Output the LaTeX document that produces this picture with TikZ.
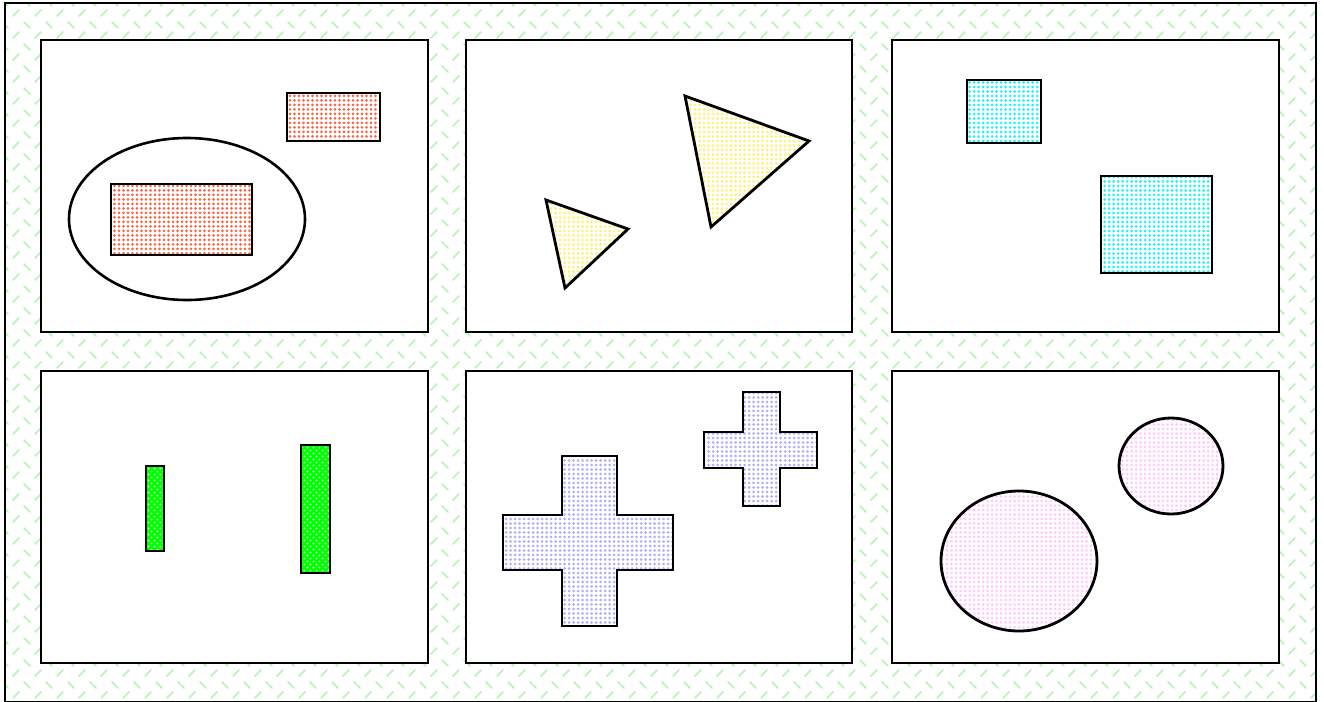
\documentclass[tikz,border=0pt]{standalone}
\usetikzlibrary{patterns}
\pgfdeclarepatternformonly{bgdash}{\pgfqpoint{-1pt}{-1pt}}{\pgfqpoint{23pt}{23pt}}{\pgfqpoint{22pt}{22pt}}{%
  \pgfsetlinewidth{1.6pt}\pgfsetroundcap
  \pgfpathmoveto{\pgfqpoint{2pt}{19pt}}\pgfpathlineto{\pgfqpoint{8pt}{13pt}}
  \pgfpathmoveto{\pgfqpoint{13pt}{3pt}}\pgfpathlineto{\pgfqpoint{19pt}{9pt}}
  \pgfusepath{stroke}}
\pgfdeclarepatternformonly{finedots}{\pgfqpoint{-1pt}{-1pt}}{\pgfqpoint{5pt}{5pt}}{\pgfqpoint{4.5pt}{4.5pt}}{%
  \pgfpathcircle{\pgfqpoint{2pt}{2pt}}{1.5pt}\pgfusepath{fill}}
\pgfdeclarepatternformonly{wdots}{\pgfqpoint{-1pt}{-1pt}}{\pgfqpoint{7pt}{7pt}}{\pgfqpoint{6pt}{6pt}}{%
  \pgfpathcircle{\pgfqpoint{1.5pt}{1.5pt}}{1.2pt}\pgfpathcircle{\pgfqpoint{4.5pt}{4.5pt}}{1.2pt}\pgfusepath{fill}}
\definecolor{bggreen}{HTML}{B4F4B4}
\definecolor{dotred}{HTML}{F86848}
\definecolor{dotyel}{HTML}{FFF070}
\definecolor{dotcyan}{HTML}{20F4F4}
\definecolor{dotblue}{HTML}{B0B0F8}
\definecolor{dotpink}{HTML}{FFC8FF}
\tikzset{
  panel/.style={draw=black,line width=2.4pt,fill=white},
  shp/.style={draw=black,line width=2.8pt,line join=miter},
  redp/.style={shp,pattern=finedots,pattern color=dotred},
  yelp/.style={shp,pattern=finedots,pattern color=dotyel},
  cyanp/.style={shp,pattern=finedots,pattern color=dotcyan},
  bluep/.style={shp,pattern=finedots,pattern color=dotblue},
  pinkp/.style={shp,pattern=finedots,pattern color=dotpink},
  greenp/.style={shp,preaction={fill=green},pattern=wdots,pattern color=white!70!green},
}
\begin{document}
\begin{tikzpicture}[x=1pt,y=-1pt]
\useasboundingbox (0,0) rectangle (1324,701);
\fill[white] (0,0) rectangle (1324,701);
\path[pattern=bgdash,pattern color=bggreen] (5,3) rectangle (1316,700);
\draw[line width=2.6pt] (5,3) rectangle (1316,702);
% panels
\draw[panel] (41,40) rectangle (428,332);
\draw[panel] (466,40) rectangle (852,332);
\draw[panel] (892,40) rectangle (1279,332);
\draw[panel] (41,371) rectangle (428,663);
\draw[panel] (466,371) rectangle (852,663);
\draw[panel] (892,371) rectangle (1279,663);
% panel 1
\draw[line width=2.6pt] (187,219) ellipse [x radius=118, y radius=81];
\draw[redp] (111,184) rectangle (252,255);
\draw[redp] (287,93) rectangle (380,141);
% panel 2
\draw[yelp] (546,200) -- (628,229) -- (565,288) -- cycle;
\draw[yelp] (685,96) -- (809,141) -- (711,227) -- cycle;
% panel 3
\draw[cyanp] (967,80) rectangle (1041,143);
\draw[cyanp] (1101,176) rectangle (1212,273);
% panel 4
\draw[greenp] (146,466) rectangle (164,551);
\draw[greenp] (301,445) rectangle (330,573);
% panel 5
\draw[bluep] (562,456) -- (617,456) -- (617,515) -- (673,515) -- (673,570) -- (617,570) -- (617,626) -- (562,626) -- (562,570) -- (503,570) -- (503,515) -- (562,515) -- cycle;
\draw[bluep] (743,392) -- (780,392) -- (780,432) -- (817,432) -- (817,468) -- (780,468) -- (780,506) -- (743,506) -- (743,468) -- (704,468) -- (704,432) -- (743,432) -- cycle;
% panel 6
\draw[pinkp] (1019,561) ellipse [x radius=78, y radius=70];
\draw[pinkp] (1171,466) ellipse [x radius=52, y radius=48];
\end{tikzpicture}
\end{document}
